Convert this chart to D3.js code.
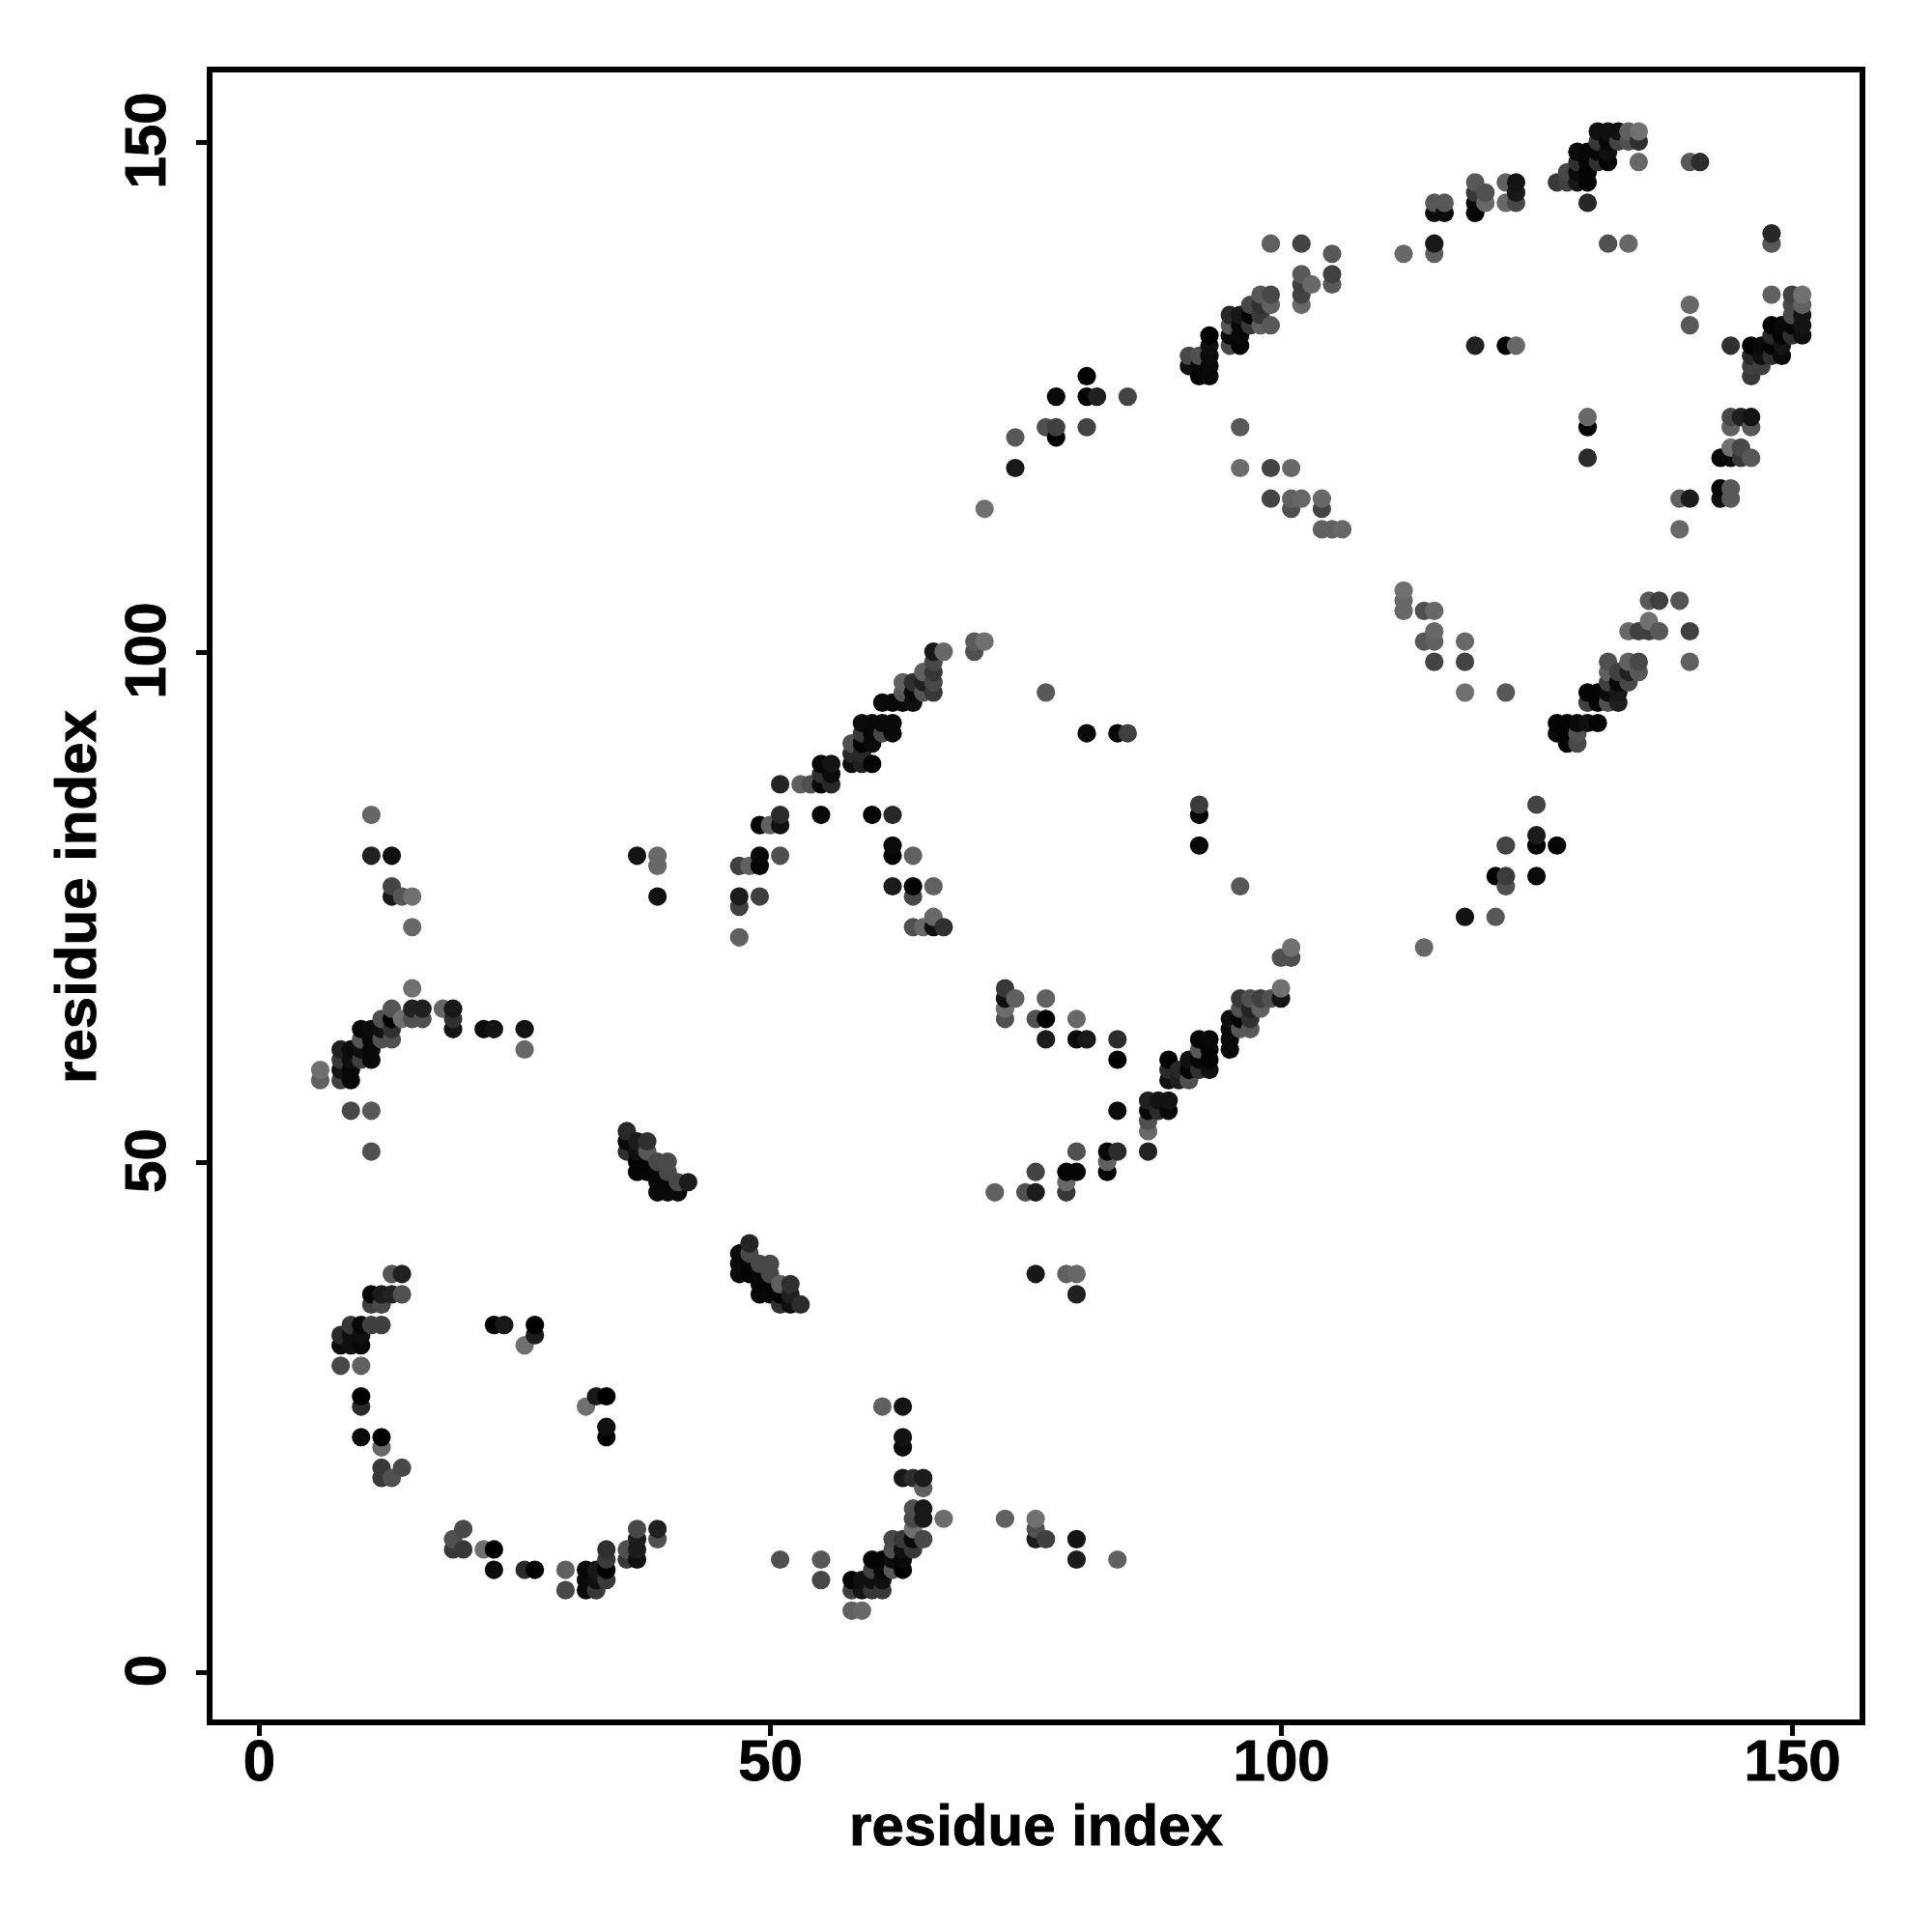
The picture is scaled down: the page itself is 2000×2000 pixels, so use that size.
<!DOCTYPE html>
<html><head><meta charset="utf-8">
<script src="https://cdn.jsdelivr.net/npm/d3@7/dist/d3.min.js"></script>
<style>html,body{margin:0;background:#fff}svg{display:block}text{font-family:"Liberation Sans",Arial,sans-serif;font-weight:700;fill:#000;stroke:#000;stroke-width:0.9px}</style>
</head><body><svg id="c" width="2000" height="2000"></svg>
<script>
const xTicks=[0,50,100,150], yTicks=[0,50,100,150];
const xTitle="residue index", yTitle="residue index";
// [residue i, residue j, intensity]
const contactsA=[[11,84,0x66],[11,80,0x22],[13,80,0x10],[13,77,0x44],[13,76,0x18],[14,76,0x55],[15,76,0x70],[15,73,0x68],[15,67,0x70],[13,65,0x55],[15,65,0x22],[16,65,0x20],[18,65,0x66],[19,65,0x18],[14,64,0x70],[15,64,0x50],[16,64,0x50],[19,64,0x30],[12,64,0x50],[13,64,0x00],[19,63,0x14],[22,63,0x0c],[23,63,0x14],[26,63,0x12],[26,61,0x68],[10,63,0x08],[11,63,0x0c],[12,63,0x10],[13,63,0x30],[10,62,0x55],[11,62,0x08],[12,62,0x50],[13,62,0x50],[8,61,0x20],[9,61,0x0c],[10,61,0x10],[11,61,0x08],[8,60,0x38],[9,60,0x10],[10,60,0x40],[11,60,0x08],[6,59,0x70],[8,59,0x14],[9,59,0x08],[6,58,0x60],[8,58,0x40],[9,58,0x08],[9,55,0x48],[11,55,0x58],[11,51,0x50]];
const contactsB=[[13,39,0x55],[14,39,0x20],[11,37,0x08],[12,37,0x1c],[13,37,0x22],[14,37,0x50],[11,36,0x40],[12,36,0x48],[9,34,0x38],[10,34,0x08],[11,34,0x40],[12,34,0x40],[8,33,0x2a],[9,33,0x10],[10,33,0x10],[8,32,0x0c],[9,32,0x10],[10,32,0x08],[8,30,0x48],[10,30,0x60],[10,27,0x00],[10,26,0x2a],[10,23,0x0a],[12,23,0x00],[12,22,0x68],[12,20,0x38],[14,20,0x48],[12,19,0x38],[13,19,0x50],[23,34,0x04],[24,34,0x18],[27,34,0x00],[27,33,0x1c],[26,32,0x70],[33,27,0x18],[34,27,0x00],[32,26,0x70],[34,24,0x10],[34,23,0x00],[20,14,0x48],[19,13,0x50],[19,12,0x38],[20,12,0x38],[22,12,0x70],[23,12,0x00],[23,10,0x0a],[26,10,0x2a],[27,10,0x00],[30,10,0x60],[30,8,0x48],[32,10,0x08],[33,10,0x18],[34,10,0x00],[32,9,0x0a],[33,9,0x10],[34,9,0x3a],[32,8,0x0a],[33,8,0x38],[34,12,0x30],[34,11,0x3a],[36,12,0x50],[36,11,0x38],[37,13,0x1c],[37,14,0x48],[37,12,0x1c],[37,11,0x10],[39,14,0x20],[39,13,0x50]];
const contactsC=[[36,53,0x28],[36,52,0x08],[37,52,0x1c],[38,52,0x30],[36,51,0x30],[37,51,0x10],[38,51,0x58],[37,50,0x05],[38,50,0x05],[39,50,0x48],[40,50,0x4a],[37,49,0x05],[38,49,0x05],[39,49,0x08],[40,49,0x48],[39,48,0x08],[40,48,0x08],[41,48,0x48],[42,48,0x1c],[39,47,0x0a],[40,47,0x0a],[41,47,0x0a],[48,42,0x24],[47,41,0x0a],[48,41,0x48],[47,40,0x0a],[48,40,0x05],[49,40,0x48],[50,40,0x48],[47,39,0x08],[48,39,0x05],[49,39,0x08],[50,39,0x48],[49,38,0x05],[50,38,0x05],[51,38,0x60],[52,38,0x30],[49,37,0x08],[50,37,0x08],[51,37,0x05],[52,37,0x20],[51,36,0x30],[52,36,0x10],[53,36,0x2c]];
const contactsD=[[61,26,0x60],[63,26,0x14],[63,23,0x12],[63,22,0x0c],[63,19,0x18],[64,19,0x2c],[65,19,0x1c],[65,18,0x60],[64,16,0x50],[65,16,0x18],[64,15,0x48],[65,15,0x18],[67,15,0x6c],[73,15,0x60],[76,15,0x70],[76,14,0x50],[76,13,0x1c],[77,13,0x40],[80,13,0x14],[80,11,0x1c],[84,11,0x60],[64,14,0x70],[62,13,0x48],[63,13,0x38],[64,13,0x08],[65,13,0x48],[62,12,0x50],[63,12,0x10],[64,12,0x38],[60,11,0x04],[61,11,0x04],[62,11,0x0c],[63,11,0x08],[60,10,0x40],[61,10,0x08],[62,10,0x58],[63,10,0x00],[58,9,0x04],[59,9,0x10],[60,9,0x10],[61,9,0x10],[58,8,0x40],[59,8,0x14],[60,8,0x38],[61,8,0x38],[58,6,0x60],[59,6,0x68],[51,11,0x50],[55,11,0x58],[55,9,0x48]];
const contactsE=[[66,100,0x18],[67,100,0x68],[70,101,0x5c],[71,101,0x70],[70,100,0x50],[66,99,0x48],[65,98,0x60],[66,98,0x38],[63,97,0x60],[64,97,0x30],[65,97,0x20],[66,97,0x48],[63,96,0x58],[64,96,0x08],[65,96,0x55],[66,96,0x38],[61,95,0x08],[62,95,0x08],[63,95,0x0a],[64,95,0x10],[59,93,0x0c],[60,93,0x08],[61,93,0x08],[62,93,0x08],[59,92,0x38],[60,92,0x08],[61,92,0x48],[62,92,0x08],[58,91,0x50],[59,91,0x04],[60,91,0x0a],[58,90,0x28],[59,90,0x28],[58,89,0x10],[59,89,0x20],[60,89,0x04],[55,89,0x08],[56,89,0x14],[55,88,0x30],[56,88,0x0c],[51,87,0x24],[53,87,0x60],[54,87,0x50],[55,87,0x08],[56,87,0x28],[51,84,0x2a],[55,84,0x08],[60,84,0x04],[62,84,0x28],[49,83,0x04],[50,83,0x60],[51,83,0x10],[62,81,0x0a],[62,80,0x04],[64,80,0x60],[49,80,0x08],[51,80,0x50],[49,79,0x05],[47,79,0x40],[48,79,0x60],[47,76,0x1c],[49,76,0x40],[47,75,0x40],[47,72,0x60],[62,77,0x1c],[64,77,0x04],[66,77,0x60],[64,76,0x48],[66,74,0x68],[64,73,0x50],[65,73,0x68],[66,73,0x10],[67,73,0x30],[37,80,0x14],[39,80,0x68],[39,79,0x68],[39,76,0x10],[77,96,0x58]];
const contactsF=[[73,67,0x38],[73,66,0x10],[74,66,0x60],[77,66,0x60],[73,65,0x6c],[73,64,0x50],[76,64,0x50],[77,64,0x00],[80,64,0x68],[77,62,0x1c],[80,62,0x0a],[81,62,0x18],[84,62,0x2c],[84,60,0x00],[84,55,0x0c],[80,51,0x50],[83,51,0x08],[84,51,0x2a],[83,50,0x60],[83,49,0x04],[87,51,0x22],[76,49,0x44],[79,49,0x04],[80,49,0x04],[79,48,0x68],[72,47,0x60],[75,47,0x50],[76,47,0x1c],[79,47,0x38],[76,39,0x18],[79,39,0x60],[80,39,0x68],[80,37,0x20],[87,56,0x20],[88,56,0x14],[89,56,0x14],[87,55,0x08],[88,55,0x2a],[89,55,0x08],[87,54,0x50],[87,53,0x68],[89,60,0x00],[89,59,0x2a],[90,59,0x28],[89,58,0x10],[90,58,0x20],[91,58,0x50],[91,60,0x10],[91,59,0x05],[92,62,0x08],[93,62,0x08],[92,61,0x58],[93,61,0x04],[92,60,0x08],[93,60,0x04],[92,59,0x30],[93,59,0x10],[95,64,0x10],[95,63,0x0a],[95,62,0x0a],[95,61,0x08],[96,66,0x38],[96,65,0x50],[96,64,0x04],[96,63,0x58],[97,66,0x50],[97,65,0x24],[97,64,0x30],[97,63,0x58],[98,66,0x40],[98,65,0x60],[99,66,0x50],[100,66,0x14],[100,67,0x70],[100,70,0x50],[101,70,0x50],[101,71,0x70]];
const contactsG=[[81,92,0x0a],[84,92,0x08],[85,92,0x40],[92,85,0x3c],[92,84,0x04],[92,81,0x08],[96,77,0x58],[81,127,0x04],[78,125,0x0a],[81,125,0x04],[82,125,0x20],[85,125,0x44],[77,122,0x50],[78,122,0x40],[81,122,0x44],[78,121,0x04],[74,121,0x58],[74,118,0x18],[71,114,0x70],[96,122,0x58],[96,118,0x6c],[99,118,0x44],[101,118,0x68],[99,115,0x44],[101,115,0x60],[102,115,0x68],[104,115,0x68],[101,114,0x50],[104,114,0x44],[104,112,0x60],[105,112,0x60],[106,112,0x68]];
const contactsH=[[99,140,0x60],[102,140,0x44],[105,139,0x58],[102,137,0x58],[105,137,0x40],[102,136,0x40],[103,136,0x68],[105,136,0x58],[102,135,0x44],[102,134,0x68],[98,135,0x58],[99,135,0x48],[97,134,0x48],[98,134,0x30],[99,134,0x60],[95,133,0x28],[96,133,0x18],[97,133,0x04],[98,133,0x38],[95,132,0x58],[96,132,0x08],[97,132,0x38],[98,132,0x60],[99,132,0x58],[95,131,0x08],[96,131,0x08],[95,130,0x48],[96,130,0x04],[93,131,0x02],[93,130,0x10],[93,129,0x0c],[91,129,0x48],[92,129,0x50],[91,128,0x10],[92,128,0x08],[93,128,0x08],[92,127,0x04],[93,127,0x08]];
const contactsI=[[112,139,0x68],[115,140,0x18],[115,139,0x60],[115,144,0x58],[116,144,0x58],[115,143,0x0c],[116,143,0x0c],[119,146,0x58],[119,145,0x38],[119,144,0x08],[119,143,0x04],[120,145,0x50],[120,144,0x68],[122,146,0x60],[123,146,0x14],[123,145,0x18],[122,144,0x68],[123,144,0x48],[130,144,0x28],[127,146,0x38],[128,146,0x40],[129,146,0x18],[130,146,0x04],[128,147,0x48],[129,147,0x0c],[130,147,0x04],[129,148,0x30],[130,148,0x04],[131,148,0x30],[132,148,0x04],[129,149,0x0a],[130,149,0x08],[131,149,0x08],[132,149,0x10],[131,150,0x38],[132,150,0x08],[133,150,0x44],[134,150,0x50],[135,150,0x30],[131,151,0x10],[132,151,0x10],[133,151,0x10],[134,151,0x60],[135,151,0x70],[135,148,0x68],[140,148,0x58],[141,148,0x2c],[132,140,0x50],[134,140,0x68],[119,130,0x22],[122,130,0x04],[123,130,0x68],[140,134,0x68],[140,132,0x58],[148,141,0x28],[148,140,0x58]];
const contactsJ=[[148,135,0x60],[150,135,0x40],[151,135,0x70],[150,134,0x48],[151,134,0x60],[150,133,0x48],[151,133,0x14],[148,132,0x04],[149,132,0x08],[150,132,0x08],[151,132,0x14],[148,131,0x28],[149,131,0x04],[150,131,0x30],[151,131,0x10],[144,130,0x30],[146,130,0x04],[147,130,0x0a],[148,130,0x04],[149,130,0x14],[146,129,0x28],[147,129,0x10],[148,129,0x30],[149,129,0x0a],[146,128,0x40],[147,128,0x40],[146,127,0x38],[130,123,0x68],[130,122,0x04],[130,119,0x2a],[144,123,0x48],[145,123,0x20],[146,123,0x14],[144,122,0x60],[146,122,0x58],[144,120,0x70],[145,120,0x48],[143,119,0x04],[144,119,0x08],[145,119,0x38],[146,119,0x58],[143,116,0x08],[144,116,0x58],[143,115,0x10],[144,115,0x58],[139,115,0x60],[140,115,0x1c],[139,112,0x68]];
const contactsK=[[112,106,0x70],[112,105,0x68],[112,104,0x68],[114,104,0x50],[115,104,0x68],[115,102,0x68],[114,101,0x58],[115,101,0x60],[118,101,0x68],[115,99,0x44],[118,99,0x44],[118,96,0x70],[122,96,0x58],[136,105,0x58],[137,105,0x40],[139,105,0x54],[136,103,0x70],[134,102,0x68],[135,102,0x40],[136,102,0x40],[137,102,0x58],[140,102,0x40],[140,99,0x60],[132,99,0x50],[134,99,0x60],[135,99,0x48],[132,98,0x60],[133,98,0x40],[134,98,0x20],[135,98,0x58],[132,97,0x40],[133,97,0x08],[134,97,0x48],[130,96,0x04],[131,96,0x04],[132,96,0x0a],[133,96,0x18],[130,95,0x40],[131,95,0x04],[132,95,0x50],[133,95,0x20],[127,93,0x04],[128,93,0x04],[129,93,0x08],[130,93,0x10],[131,93,0x04],[127,92,0x0a],[128,92,0x04],[129,92,0x50],[128,91,0x04],[129,91,0x48],[125,85,0x44],[125,82,0x1c],[125,81,0x04],[127,81,0x04],[122,81,0x44],[121,78,0x04],[122,78,0x3c],[125,78,0x0a],[122,77,0x50],[118,74,0x14],[121,74,0x58],[114,71,0x68]];

const contacts=[contactsA,contactsB,contactsC,contactsD,contactsE,contactsF,contactsG,contactsH,contactsI,contactsJ,contactsK].flat()
  .map(([i,j,v])=>({i,j,v}))
  .sort((a,b)=>d3.ascending(a.i,b.i)||d3.ascending(a.j,b.j));

const L=217,R=1928,T=72,B=1783;
const x=d3.scaleLinear().domain([-4.82,156.89]).range([L,R]);
const y=d3.scaleLinear().domain([-4.92,157.1]).range([B,T]);
const shade=d3.scaleLinear().domain([0,255]).range(["#000","#fff"]);
const svg=d3.select("#c");

svg.append("g").selectAll("circle").data(contacts).join("circle")
  .attr("cx",d=>x(d.i)).attr("cy",d=>y(d.j)-0.4).attr("r",9.6).attr("fill",d=>shade(d.v));

svg.append("rect").attr("x",L).attr("y",T).attr("width",R-L).attr("height",B-T)
  .attr("fill","none").attr("stroke","#000").attr("stroke-width",6);

const gx=svg.append("g").attr("transform",`translate(0,${B})`)
  .call(d3.axisBottom(x).tickValues(xTicks).tickSize(14).tickPadding(14).tickFormat(d3.format("d")));
const gy=svg.append("g").attr("transform",`translate(${L},0)`)
  .call(d3.axisLeft(y).tickValues(yTicks).tickSize(14).tickPadding(14).tickFormat(d3.format("d")));
for(const g of [gx,gy]){
  g.select(".domain").remove();
  g.selectAll(".tick line").attr("stroke","#000").attr("stroke-width",5);
  g.selectAll("text").style("font-size","60px").style("font-family",'"Liberation Sans"').style("font-weight",700);
}
gx.selectAll("text").attr("dy",null).attr("dominant-baseline","auto").attr("transform",null)
  .attr("y",1843-B);
gy.selectAll("text").attr("x",null).attr("dy",null).attr("text-anchor","middle")
  .attr("transform",`translate(${171-L},-2) rotate(-90)`);

svg.append("text").attr("x",(L+R)/2).attr("y",1910).attr("text-anchor","middle").style("font-size","60px").text(xTitle);
svg.append("text").attr("transform",`translate(99,${(T+B)/2+1}) rotate(-90)`).attr("text-anchor","middle").style("font-size","60px").text(yTitle);
</script></body></html>
